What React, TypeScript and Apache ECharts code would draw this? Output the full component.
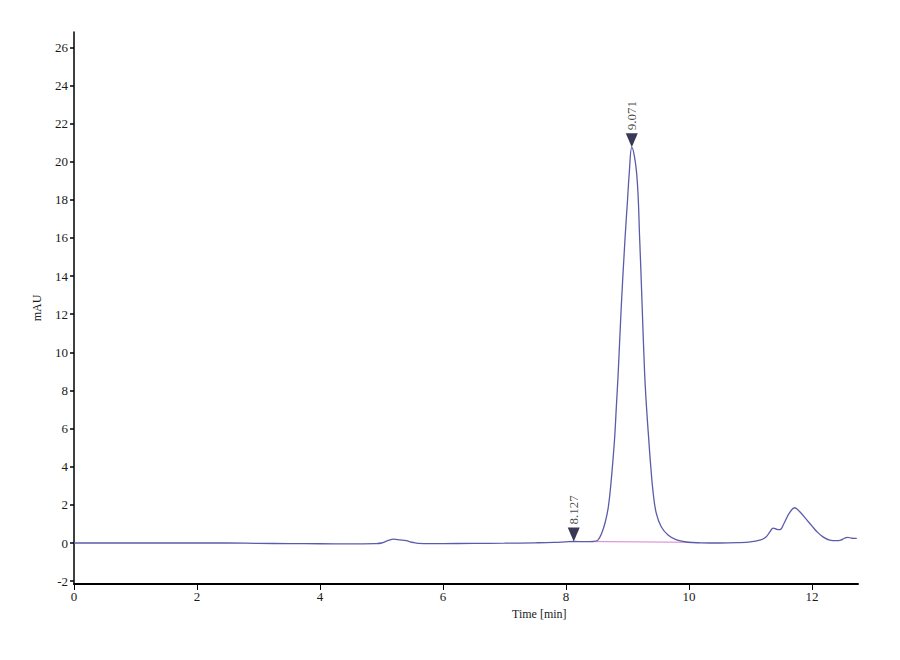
import React, { useRef, useEffect } from "react";
import * as echarts from "echarts";

// chromatogram trace (time in min, absorbance in mAU)
const times = [
  0, 0.5, 1, 1.5, 2, 2.5, 3, 3.5, 4, 4.5, 4.9, 5.0, 5.1, 5.2, 5.3, 5.4, 5.5,
  5.6, 5.8, 6, 6.5, 7, 7.5, 7.8, 8.0, 8.127, 8.3, 8.45, 8.52, 8.58, 8.64, 8.69,
  8.74, 8.79, 8.82, 8.85, 8.9, 8.96, 9.0, 9.03, 9.071, 9.15, 9.2, 9.24,
  9.28, 9.31, 9.34, 9.38, 9.42, 9.47, 9.55, 9.66, 9.8, 9.98, 10.2, 10.5, 10.8,
  11.0, 11.15, 11.25, 11.32, 11.37, 11.43, 11.48, 11.55, 11.63, 11.72, 11.8,
  11.92, 12.0, 12.08, 12.18, 12.29, 12.4, 12.47, 12.53, 12.58, 12.65, 12.73,
];
const signal = [
  0.0, 0.0, 0.0, 0.0, 0.0, 0.0, -0.02, -0.03, -0.04, -0.05, -0.03, 0.0, 0.12,
  0.2, 0.16, 0.12, 0.04, -0.02, -0.03, -0.03, -0.02, -0.01, 0.01, 0.03, 0.06,
  0.08, 0.07, 0.08, 0.15, 0.5, 1.1, 1.9, 3.4, 5.4, 7.15, 8.9, 12.4, 15.9, 17.9,
  19.4, 20.75, 19.4, 15.9, 12.4, 8.9, 7.15, 5.75, 4.0, 2.6, 1.55, 0.85,
  0.42, 0.16, 0.04, 0.01, 0.0, 0.02, 0.06, 0.15, 0.3, 0.6, 0.78, 0.72, 0.7,
  1.05, 1.55, 1.85, 1.65, 1.2, 0.9, 0.6, 0.32, 0.15, 0.12, 0.15, 0.25, 0.3,
  0.25, 0.24,
];

// integration baseline under the main peak
const baselineTimes = [8.127, 10.0];
const baselineValues = [0.08, 0.04];

// retention time markers
const peakLabels = ["8.127", "9.071"];
const peakTimes = [8.127, 9.071];
const peakValues = [0.08, 20.75];

const xTicks = [0, 2, 4, 6, 8, 10, 12];
const yTicks = [-2, 0, 2, 4, 6, 8, 10, 12, 14, 16, 18, 20, 22, 24, 26];

const FONT = "Liberation Serif";

const App = function () {
  const chart = useRef<HTMLDivElement>(null);
  useEffect(() => {
    if (!chart.current) return;
    const myChart = echarts.init(chart.current, undefined, { renderer: "svg" });
    const option = {
      animation: false,
      backgroundColor: "#fff",
      textStyle: { fontFamily: FONT },
      grid: { left: 74, right: 42, top: 32, bottom: 76 },
      xAxis: {
        type: "value",
        min: 0,
        max: 12.75,
        axisLine: { onZero: false, lineStyle: { color: "#000", width: 2 } },
        axisTick: {
          customValues: xTicks,
          length: 6,
          lineStyle: { color: "#000", width: 1 },
        },
        axisLabel: {
          customValues: xTicks,
          color: "#1a1a1a",
          fontFamily: FONT,
          fontSize: 13,
          margin: 6,
        },
        splitLine: { show: false },
      },
      yAxis: {
        type: "value",
        min: -2.15,
        max: 26.8,
        name: "mAU",
        nameLocation: "middle",
        nameGap: 31,
        nameTextStyle: { color: "#1a1a1a", fontFamily: FONT, fontSize: 12 },
        axisLine: { show: true, lineStyle: { color: "#000", width: 1.5 } },
        axisTick: {
          show: true,
          customValues: yTicks,
          length: 4,
          lineStyle: { color: "#000", width: 1.5 },
        },
        axisLabel: {
          customValues: yTicks,
          color: "#1a1a1a",
          fontFamily: FONT,
          fontSize: 13,
          margin: 6,
        },
        splitLine: { show: false },
      },
      graphic: [
        {
          type: "text",
          left: 512,
          top: 608,
          style: {
            text: "Time [min]",
            fill: "#1a1a1a",
            font: `12px "${FONT}"`,
          },
        },
      ],
      series: [
        {
          name: "baseline",
          type: "line",
          data: baselineTimes.map((t, i) => [t, baselineValues[i]]),
          symbol: "none",
          lineStyle: { color: "#d77fcf", width: 1 },
          silent: true,
        },
        {
          name: "signal",
          type: "line",
          data: times.map((t, i) => [t, signal[i]]),
          symbol: "none",
          smooth: 0.4,
          lineStyle: { color: "#5b5bab", width: 1.3 },
        },
        {
          name: "peaks",
          type: "scatter",
          data: peakTimes.map((t, i) => ({
            value: [t, peakValues[i]],
            name: peakLabels[i],
          })),
          symbol: "triangle",
          symbolRotate: 180,
          symbolSize: [12, 14],
          symbolOffset: [0, -7],
          itemStyle: { color: "#08082a" },
          label: {
            show: true,
            formatter: "{b}",
            position: "top",
            distance: 3,
            rotate: 90,
            align: "left",
            verticalAlign: "middle",
            color: "#1a1a1a",
            fontFamily: FONT,
            fontSize: 13,
          },
          z: 5,
        },
      ],
    };
    myChart.setOption(option);
    return () => {
      myChart.dispose();
    };
  }, []);
  return (
    <div
      ref={chart}
      style={{ position: "fixed", left: 0, top: 0, width: 900, height: 660 }}
    ></div>
  );
};

export default App;
